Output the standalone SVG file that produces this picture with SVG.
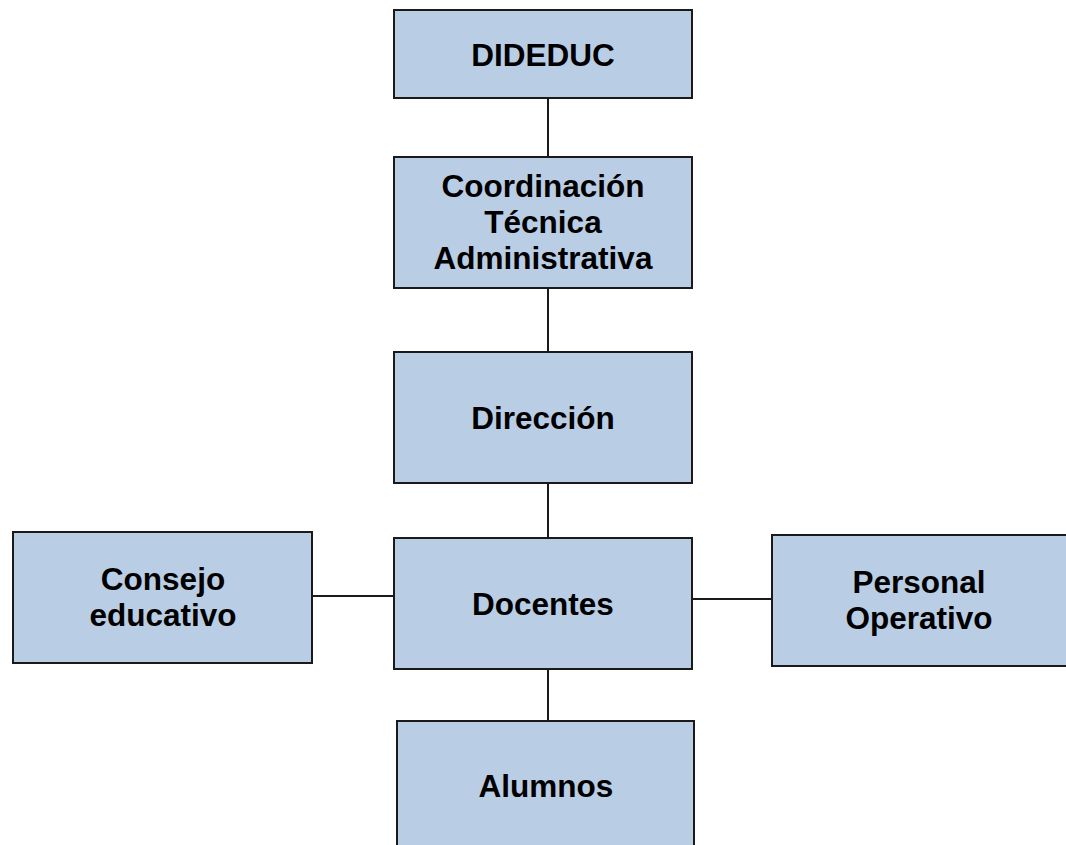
<svg xmlns="http://www.w3.org/2000/svg" width="1066" height="845" viewBox="0 0 1066 845">
<style>
.box{fill:#b9cde5;stroke:#1a1a1a;stroke-width:2}
.lbl{font-family:"Liberation Sans",Arial,sans-serif;font-weight:bold;font-size:31.5px;fill:#000;text-anchor:middle}
.con{stroke:#1a1a1a;stroke-width:2;fill:none}
</style>
<rect width="1066" height="845" fill="#fff"/>
<g id="connectors">
<line class="con" x1="548" y1="98" x2="548" y2="157"/>
<line class="con" x1="548" y1="288" x2="548" y2="352"/>
<line class="con" x1="548" y1="483" x2="548" y2="538"/>
<line class="con" x1="548" y1="669" x2="548" y2="721"/>
<line class="con" x1="312" y1="596" x2="394" y2="596"/>
<line class="con" x1="692" y1="599" x2="775" y2="599"/>
</g>
<g id="dideduc"><rect class="box" x="394" y="10" width="298" height="88"/><text class="lbl" x="543" y="66">DIDEDUC</text></g>
<g id="coordinacion"><rect class="box" x="394" y="157" width="298" height="131"/>
<text class="lbl" x="543" y="197">Coordinación</text><text class="lbl" x="543" y="233">Técnica</text><text class="lbl" x="543" y="269">Administrativa</text></g>
<g id="direccion"><rect class="box" x="394" y="352" width="298" height="131"/><text class="lbl" x="543" y="429">Dirección</text></g>
<g id="docentes"><rect class="box" x="394" y="538" width="298" height="131"/><text class="lbl" x="543" y="615">Docentes</text></g>
<g id="consejo"><rect class="box" x="13" y="532" width="299" height="131"/><text class="lbl" x="163" y="590">Consejo</text><text class="lbl" x="163" y="626">educativo</text></g>
<g id="personal"><rect class="box" x="772" y="535" width="300" height="131"/><text class="lbl" x="919" y="593">Personal</text><text class="lbl" x="919" y="629">Operativo</text></g>
<g id="alumnos"><rect class="box" x="397" y="721" width="297" height="140"/><text class="lbl" x="546" y="797">Alumnos</text></g>
</svg>
